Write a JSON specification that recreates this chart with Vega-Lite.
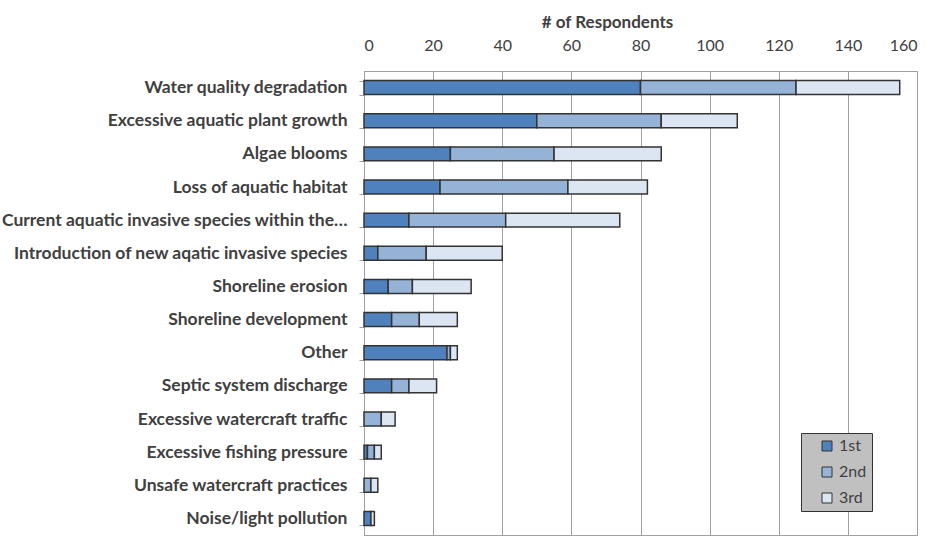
{
  "$schema": "https://vega.github.io/schema/vega-lite/v6.json",
  "autosize": {"type": "none"},
  "padding": {"left": 364, "top": 71, "right": 13, "bottom": 7},
  "width": 553,
  "height": 464,
  "background": "white",
  "config": {
    "font": "Lato",
    "view": {"stroke": "#a0a0a0", "strokeWidth": 1}
  },
  "data": {
    "values": [
      {"issue": "Water quality degradation", "rank": "1st", "n": 80},
      {"issue": "Water quality degradation", "rank": "2nd", "n": 45},
      {"issue": "Water quality degradation", "rank": "3rd", "n": 30},
      {"issue": "Excessive aquatic plant growth", "rank": "1st", "n": 50},
      {"issue": "Excessive aquatic plant growth", "rank": "2nd", "n": 36},
      {"issue": "Excessive aquatic plant growth", "rank": "3rd", "n": 22},
      {"issue": "Algae blooms", "rank": "1st", "n": 25},
      {"issue": "Algae blooms", "rank": "2nd", "n": 30},
      {"issue": "Algae blooms", "rank": "3rd", "n": 31},
      {"issue": "Loss of aquatic habitat", "rank": "1st", "n": 22},
      {"issue": "Loss of aquatic habitat", "rank": "2nd", "n": 37},
      {"issue": "Loss of aquatic habitat", "rank": "3rd", "n": 23},
      {"issue": "Current aquatic invasive species within the…", "rank": "1st", "n": 13},
      {"issue": "Current aquatic invasive species within the…", "rank": "2nd", "n": 28},
      {"issue": "Current aquatic invasive species within the…", "rank": "3rd", "n": 33},
      {"issue": "Introduction of new aqatic invasive species", "rank": "1st", "n": 4},
      {"issue": "Introduction of new aqatic invasive species", "rank": "2nd", "n": 14},
      {"issue": "Introduction of new aqatic invasive species", "rank": "3rd", "n": 22},
      {"issue": "Shoreline erosion", "rank": "1st", "n": 7},
      {"issue": "Shoreline erosion", "rank": "2nd", "n": 7},
      {"issue": "Shoreline erosion", "rank": "3rd", "n": 17},
      {"issue": "Shoreline development", "rank": "1st", "n": 8},
      {"issue": "Shoreline development", "rank": "2nd", "n": 8},
      {"issue": "Shoreline development", "rank": "3rd", "n": 11},
      {"issue": "Other", "rank": "1st", "n": 24},
      {"issue": "Other", "rank": "2nd", "n": 1},
      {"issue": "Other", "rank": "3rd", "n": 2},
      {"issue": "Septic system discharge", "rank": "1st", "n": 8},
      {"issue": "Septic system discharge", "rank": "2nd", "n": 5},
      {"issue": "Septic system discharge", "rank": "3rd", "n": 8},
      {"issue": "Excessive watercraft traffic", "rank": "2nd", "n": 5},
      {"issue": "Excessive watercraft traffic", "rank": "3rd", "n": 4},
      {"issue": "Excessive fishing pressure", "rank": "1st", "n": 1},
      {"issue": "Excessive fishing pressure", "rank": "2nd", "n": 2},
      {"issue": "Excessive fishing pressure", "rank": "3rd", "n": 2},
      {"issue": "Unsafe watercraft practices", "rank": "2nd", "n": 2},
      {"issue": "Unsafe watercraft practices", "rank": "3rd", "n": 2},
      {"issue": "Noise/light pollution", "rank": "1st", "n": 2},
      {"issue": "Noise/light pollution", "rank": "3rd", "n": 1}
    ]
  },
  "mark": {"type": "bar", "stroke": "#333333", "strokeWidth": 1.5},
  "encoding": {
    "y": {
      "field": "issue",
      "type": "nominal",
      "sort": null,
      "scale": {"paddingInner": 0.58, "paddingOuter": 0.29},
      "axis": {
        "title": null,
        "labelFont": "Lato",
        "labelFontSize": 17.5,
        "labelFontWeight": "bold",
        "labelColor": "#404040",
        "labelPadding": 12,
        "labelLimit": 400,
        "tickBand": "extent",
        "tickSize": 5,
        "tickColor": "#a0a0a0",
        "domainColor": "#a0a0a0",
        "grid": false
      }
    },
    "x": {
      "field": "n",
      "type": "quantitative",
      "stack": "zero",
      "scale": {"domain": [0, 160], "nice": false},
      "axis": {
        "orient": "top",
        "title": "# of Respondents",
        "titleFont": "Lato",
        "titleFontSize": 17,
        "titleFontWeight": "bold",
        "titleColor": "#404040",
        "titleX": 243,
        "titleY": -44,
        "titleAlign": "center",
        "titleAnchor": null,
        "titleBaseline": "alphabetic",
        "values": [0, 20, 40, 60, 80, 100, 120, 140, 160],
        "labelFont": "Lato",
        "labelFontSize": 16,
        "labelColor": "#404040",
        "labelPadding": 18,
        "ticks": false,
        "grid": true,
        "gridColor": "#a0a0a0",
        "domainColor": "#a0a0a0"
      }
    },
    "color": {
      "field": "rank",
      "type": "nominal",
      "scale": {"domain": ["1st", "2nd", "3rd"], "range": ["#4f81bd", "#95b3d7", "#dce6f2"]},
      "legend": {
        "title": null,
        "orient": "none",
        "legendX": 437,
        "legendY": 362,
        "fillColor": "#c0c0c0",
        "strokeColor": "#333333",
        "padding": 5,
        "symbolType": "square",
        "symbolSize": 100,
        "symbolStrokeColor": "#333333",
        "symbolStrokeWidth": 1,
        "symbolOffset": 13,
        "labelFont": "Lato",
        "labelFontSize": 16,
        "labelColor": "#404040",
        "labelOffset": 4,
        "labelExpr": "datum.label + '         '",
        "rowPadding": 10
      }
    },
    "order": {"field": "rank", "type": "ordinal", "sort": "ascending"}
  }
}
